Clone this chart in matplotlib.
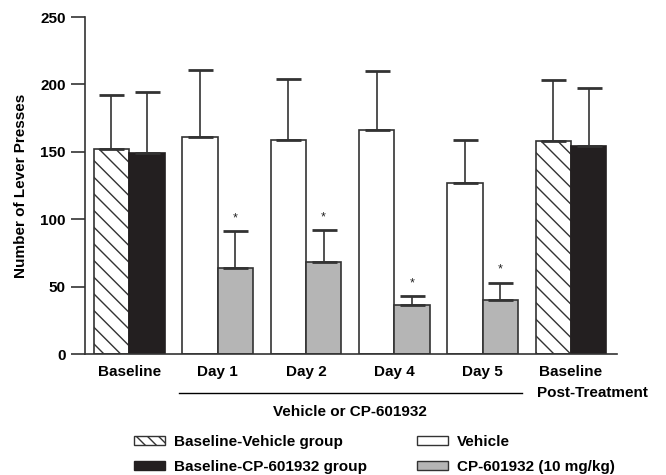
import numpy as np
import matplotlib
matplotlib.use("Agg")
import matplotlib.pyplot as plt
from matplotlib.patches import Patch
import matplotlib.transforms as mtransforms

plt.rcParams['font.family'] = ['Liberation Sans', 'DejaVu Sans']
plt.rcParams['hatch.linewidth'] = 1.0

# session labels and group means / SEM (upper error only)
sessions = ["Baseline", "Day 1", "Day 2", "Day 4", "Day 5", "Baseline"]
left_vals = [152, 161, 159, 166, 127, 158]      # Baseline-Vehicle / Vehicle
left_err = [40, 50, 45, 44, 32, 45]
right_vals = [149, 64, 68, 36, 40, 154]         # Baseline-CP / CP-601932
right_err = [45, 27, 24, 7, 13, 43]
sig_days = [1, 2, 3, 4]                         # sessions marked with *

edge = "#333333"
gray = "#b5b5b5"
black = "#231f20"
fs = 11

fig = plt.figure(figsize=(6.66, 4.75), dpi=100)
ax = fig.add_axes([0.1276, 0.2547, 0.7988, 0.7095])

x = np.arange(len(sessions))
w = 0.4

for i in range(len(sessions)):
    baseline = i in (0, len(sessions) - 1)
    if baseline:
        ax.bar(x[i] - w / 2, left_vals[i], w, facecolor="white", edgecolor=edge,
               hatch="\\\\", linewidth=1.2)
        ax.bar(x[i] + w / 2, right_vals[i], w, facecolor=black, edgecolor=black,
               linewidth=1.2)
    else:
        ax.bar(x[i] - w / 2, left_vals[i], w, facecolor="white", edgecolor=edge,
               linewidth=1.2)
        ax.bar(x[i] + w / 2, right_vals[i], w, facecolor=gray, edgecolor=edge,
               linewidth=1.2)

zeros = np.zeros(len(sessions))
ax.errorbar(x - w / 2, left_vals, yerr=[zeros, left_err], fmt="none",
            ecolor=edge, elinewidth=1.2, capsize=9, capthick=2)
ax.errorbar(x + w / 2, right_vals, yerr=[zeros, right_err], fmt="none",
            ecolor=edge, elinewidth=1.2, capsize=9, capthick=2)

for i in sig_days:
    ax.text(x[i] + w / 2, right_vals[i] + right_err[i] + 5, "*",
            ha="center", va="bottom", fontsize=9, color="#222222")

ax.set_xlim(-0.5, 5.52)
ax.set_ylim(0, 250)
ax.set_yticks([0, 50, 100, 150, 200, 250])
ax.set_xticks(x)
ax.set_xticklabels(sessions, fontsize=fs, fontweight="bold")
for lab in ax.get_yticklabels():
    lab.set_fontweight("bold")
ax.tick_params(axis="y", labelsize=fs, length=10, width=1.2, color=edge, pad=4)
ax.tick_params(axis="x", length=0, pad=8)
ax.spines["top"].set_visible(False)
ax.spines["right"].set_visible(False)
for s in ("left", "bottom"):
    ax.spines[s].set_color(edge)
    ax.spines[s].set_linewidth(1.2)
ax.set_ylabel("Number of Lever Presses", fontsize=fs, fontweight="bold", labelpad=9)

# bracket line under the treatment days
trans = mtransforms.blended_transform_factory(ax.transData, ax.transAxes)
ax.plot([0.56, 4.45], [-0.116, -0.116], transform=trans, color="black",
        linewidth=1.0, clip_on=False)
ax.text(2.5, -0.172, "Vehicle or CP-601932", transform=trans, ha="center",
        va="center", fontsize=fs, fontweight="bold")
ax.text(4.62, -0.116, "Post-Treatment", transform=trans, ha="left",
        va="center", fontsize=fs, fontweight="bold")

handles = [
    Patch(facecolor="white", edgecolor=edge, hatch="\\\\\\", label="Baseline-Vehicle group"),
    Patch(facecolor=black, edgecolor=black, label="Baseline-CP-601932 group"),
    Patch(facecolor="white", edgecolor=edge, label="Vehicle"),
    Patch(facecolor=gray, edgecolor=edge, label="CP-601932 (10 mg/kg)"),
]
fig.legend(handles=handles, ncol=2, loc="upper left",
           bbox_to_anchor=(0.19, 0.1), frameon=False, borderpad=0,
           handlelength=2.0, handleheight=0.55, handletextpad=0.6,
           labelspacing=0.68, columnspacing=3.3,
           prop={"size": fs, "weight": "bold"})

fig.savefig("out.png", dpi=100)
